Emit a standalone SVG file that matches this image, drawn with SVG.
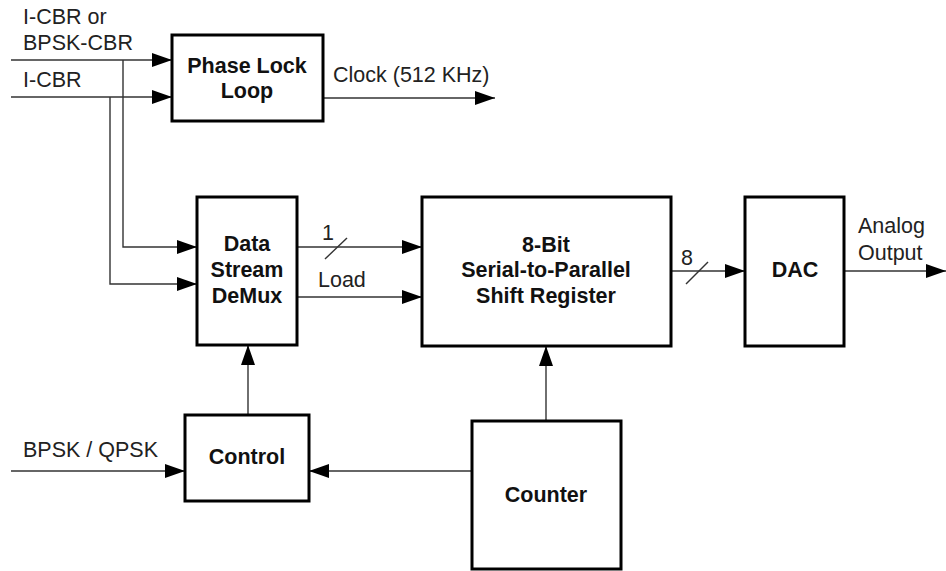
<svg xmlns="http://www.w3.org/2000/svg" width="946" height="571" viewBox="0 0 946 571">
<style>
.box{fill:#fff;stroke:#000;stroke-width:3}
.ln{fill:none;stroke:#333;stroke-width:1.4}
.t{font-family:"Liberation Sans",Arial,sans-serif;font-size:21.5px;fill:#222}
.b{font-family:"Liberation Sans",Arial,sans-serif;font-size:21.5px;font-weight:bold;fill:#111;text-anchor:middle}
</style>
<defs>
<marker id="ah" markerUnits="userSpaceOnUse" markerWidth="21" markerHeight="16" refX="20" refY="7" orient="auto" viewBox="0 0 21 16">
<path d="M0,0 L20,7 L0,14 z" fill="#000"/>
</marker>
</defs>
<rect width="946" height="571" fill="#fff"/>
<g id="connectors">
<path class="ln" d="M11,60 H172" marker-end="url(#ah)"/>
<path class="ln" d="M11,97 H172" marker-end="url(#ah)"/>
<path class="ln" d="M123,60 V247 H197" marker-end="url(#ah)"/>
<path class="ln" d="M110,97 V284 H197" marker-end="url(#ah)"/>
<path class="ln" d="M323,98 H495" marker-end="url(#ah)"/>
<path class="ln" d="M297,247 H422" marker-end="url(#ah)"/>
<path class="ln" d="M325,259 L347,238"/>
<path class="ln" d="M297,297 H422" marker-end="url(#ah)"/>
<path class="ln" d="M671,271 H745" marker-end="url(#ah)"/>
<path class="ln" d="M686,284 L708,262"/>
<path class="ln" d="M844,271 H946" marker-end="url(#ah)"/>
<path class="ln" d="M248,415 V345" marker-end="url(#ah)"/>
<path class="ln" d="M546,421 V346" marker-end="url(#ah)"/>
<path class="ln" d="M11,471 H185" marker-end="url(#ah)"/>
<path class="ln" d="M472,471 H309" marker-end="url(#ah)"/>
<text class="t" x="23" y="24">I-CBR or</text>
<text class="t" x="23" y="50">BPSK-CBR</text>
<text class="t" x="23" y="87">I-CBR</text>
<text class="t" x="333" y="82">Clock (512 KHz)</text>
<text class="t" x="322" y="240">1</text>
<text class="t" x="318" y="287">Load</text>
<text class="t" x="681" y="265">8</text>
<text class="t" x="858" y="233">Analog</text>
<text class="t" x="858" y="260">Output</text>
<text class="t" x="23" y="457">BPSK / QPSK</text>
</g>
<g id="pll">
<rect class="box" x="172" y="35" width="151" height="86"/>
<text class="b" x="247" y="73">Phase Lock</text>
<text class="b" x="247" y="98">Loop</text>
</g>
<g id="demux">
<rect class="box" x="197" y="197" width="100" height="148"/>
<text class="b" x="247" y="251">Data</text>
<text class="b" x="247" y="277">Stream</text>
<text class="b" x="247" y="303">DeMux</text>
</g>
<g id="shiftreg">
<rect class="box" x="422" y="197" width="249" height="149"/>
<text class="b" x="546" y="252">8-Bit</text>
<text class="b" x="546" y="277">Serial-to-Parallel</text>
<text class="b" x="546" y="303">Shift Register</text>
</g>
<g id="dac">
<rect class="box" x="745" y="197" width="99" height="149"/>
<text class="b" x="795" y="277">DAC</text>
</g>
<g id="control">
<rect class="box" x="185" y="415" width="124" height="86"/>
<text class="b" x="247" y="464">Control</text>
</g>
<g id="counter">
<rect class="box" x="472" y="421" width="149" height="148"/>
<text class="b" x="546" y="502">Counter</text>
</g>
</svg>
